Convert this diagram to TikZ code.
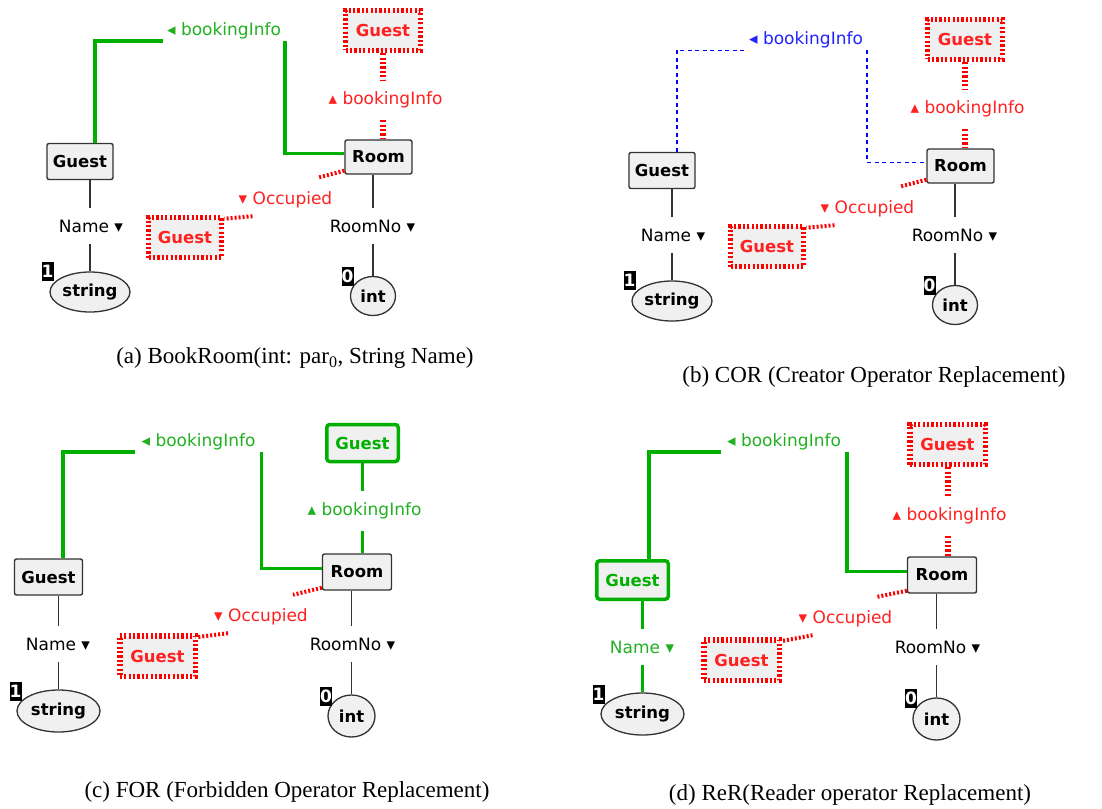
\documentclass[tikz,border=0pt]{standalone}
\usepackage{fontspec}
\setmainfont{Liberation Serif}
\newfontfamily\dvs{DejaVu Sans}
\usetikzlibrary{shapes.geometric}

\definecolor{boxfill}{HTML}{F0F0F0}
\definecolor{okgreen}{HTML}{00B000}
\definecolor{lblgreen}{HTML}{22B022}
\definecolor{nacred}{HTML}{FF0000}
\definecolor{lblred}{HTML}{FF2020}
\definecolor{crblue}{HTML}{0000FF}
\definecolor{lblblue}{HTML}{2222FF}
\definecolor{edgegray}{HTML}{333333}

\tikzset{
  reg/.style={font=\dvs\fontsize{17bp}{20bp}\selectfont},
  cls/.style={draw=edgegray, line width=1.4bp, fill=boxfill, rounded corners=2bp,
    minimum width=66bp, minimum height=36bp, inner sep=0,
    font=\dvs\bfseries\fontsize{16.5bp}{19bp}\selectfont},
  nacbox/.style={cls, draw=nacred, line width=5.5bp, dash pattern=on 2.2bp off 2.2bp,
    rounded corners=0, text=lblred, minimum width=75bp, minimum height=40bp},
  reqbox/.style={cls, draw=okgreen, line width=3.5bp, text=okgreen,
    minimum width=71.5bp, minimum height=37bp, rounded corners=3bp},
  typ/.style={ellipse, draw=edgegray, line width=1.3bp, fill=boxfill, inner sep=0,
    font=\dvs\bfseries\fontsize{16.5bp}{19bp}\selectfont},
  badge/.style={fill=black, text=white, inner sep=0, minimum width=12bp, minimum height=19bp,
    font=\dvs\bfseries\fontsize{17bp}{17bp}\selectfont},
  elbl/.style={reg, inner ysep=0, inner xsep=4bp, minimum height=20bp},
  vlbl/.style={reg, inner sep=0, minimum height=40bp},
  albl/.style={reg, inner sep=0, minimum height=36bp},
  attr/.style={draw=edgegray, line width=1.4bp},
  reqline/.style={draw=okgreen, line width=3.5bp},
  nacline/.style={draw=nacred, line width=6bp, dash pattern=on 2.2bp off 2.2bp},
  nacdiag/.style={draw=nacred, line width=4bp, dash pattern=on 2bp off 2bp},
  crline/.style={draw=crblue, line width=1.3bp, dash pattern=on 4bp off 3.5bp},
  captxt/.style={font=\fontsize{23bp}{26bp}\selectfont, inner sep=0},
}

\begin{document}
\begin{tikzpicture}[x=1bp,y=-1bp]
\useasboundingbox (0,0) rectangle (1102,809);

% ---------- (a) original graph ----------
\node[cls] (gA) at (80,161.5) {Guest};
\node[cls, minimum width=67bp, minimum height=34bp] (rA) at (378.5,157) {Room};
\node[nacbox] (tA) at (383,30.5) {Guest};
\node[nacbox, minimum width=73bp] (oA) at (185,237.5) {Guest};
\node[typ, minimum width=80bp, minimum height=40bp] (sA) at (90,292) {string};
\node[typ, minimum width=45bp, minimum height=39bp] (iA) at (373,296) {int};
\node[badge] (kA1) at (47.5,271) {1};
\node[badge] (kA0) at (347.5,276.5) {0};
\node[elbl, text=lblgreen] (bA) at (224,31) {◂ bookingInfo};
\node[vlbl, text=lblred] (vA) at (385.5,100) {▴ bookingInfo};
\node[albl, text=lblred] (cA) at (285.5,200) {▾ Occupied};
\node[albl] (nA) at (91,226) {Name ▾};
\node[albl] (mA) at (372.5,226) {RoomNo ▾};

\draw[reqline] ([xshift=15bp]gA.north) |- (bA.south west);
\draw[reqline] (bA.south east) |- ([yshift=3.5bp]rA.west);
\draw[nacline] (tA.south) -- (vA.north -| tA.south);
\draw[nacline] (vA.south -| tA.south) -- (rA.north -| tA.south);
\draw[nacdiag] ([yshift=4bp]rA.south west) -- ([xshift=-15bp,yshift=4bp]cA.north east);
\draw[nacdiag] ([xshift=14bp,yshift=2bp]cA.south west) -- ([yshift=-4bp]oA.north east);
\draw[attr] (gA.south -| sA.north) -- (nA.north -| sA.north);
\draw[attr] (nA.south -| sA.north) -- (sA.north);
\draw[attr] (rA.south -| iA.north) -- (mA.north -| iA.north);
\draw[attr] (mA.south -| iA.north) -- (iA.north);

\node[captxt] (capA) at (295,358) {(a) BookRoom(int: par\textsubscript{0}, String Name)};

% ---------- (b) creator operator replaced ----------
\begin{scope}[shift={(582,9)}]
\node[cls] (gB) at (80,161.5) {Guest};
\node[cls, minimum width=67bp, minimum height=34bp] (rB) at (378.5,157) {Room};
\node[nacbox] (tB) at (383,30.5) {Guest};
\node[nacbox, minimum width=73bp] (oB) at (185,237.5) {Guest};
\node[typ, minimum width=80bp, minimum height=40bp] (sB) at (90,292) {string};
\node[typ, minimum width=45bp, minimum height=39bp] (iB) at (373,296) {int};
\node[badge] (kB1) at (47.5,271) {1};
\node[badge] (kB0) at (347.5,276.5) {0};
\node[elbl, text=lblblue] (bB) at (224,31) {◂ bookingInfo};
\node[vlbl, text=lblred] (vB) at (385.5,100) {▴ bookingInfo};
\node[albl, text=lblred] (cB) at (285.5,200) {▾ Occupied};
\node[albl] (nB) at (91,226) {Name ▾};
\node[albl] (mB) at (372.5,226) {RoomNo ▾};

\draw[crline] ([xshift=15bp]gB.north) |- (bB.south west);
\draw[crline] (bB.south east) |- ([yshift=3.5bp]rB.west);
\draw[nacline] (tB.south) -- (vB.north -| tB.south);
\draw[nacline] (vB.south -| tB.south) -- (rB.north -| tB.south);
\draw[nacdiag] ([yshift=4bp]rB.south west) -- ([xshift=-15bp,yshift=4bp]cB.north east);
\draw[nacdiag] ([xshift=14bp,yshift=2bp]cB.south west) -- ([yshift=-4bp]oB.north east);
\draw[attr] (gB.south -| sB.north) -- (nB.north -| sB.north);
\draw[attr] (nB.south -| sB.north) -- (sB.north);
\draw[attr] (rB.south -| iB.north) -- (mB.north -| iB.north);
\draw[attr] (mB.south -| iB.north) -- (iB.north);
\end{scope}

\node[captxt] (capB) at (874,377) {(b) COR (Creator Operator Replacement)};

% ---------- (c) forbidden operator replaced ----------
\node[cls, minimum width=68bp] (gC) at (48.5,577) {Guest};
\node[cls, minimum width=69bp] (rC) at (357,572) {Room};
\node[reqbox] (tC) at (362.5,443) {Guest};
\node[nacbox, minimum width=75.5bp, minimum height=40.5bp] (oC) at (157.5,656) {Guest};
\node[typ, minimum width=83bp, minimum height=42bp] (sC) at (58.5,711) {string};
\node[typ, minimum width=47bp, minimum height=42bp] (iC) at (351.5,716) {int};
\node[badge] (kC1) at (15.5,691) {1};
\node[badge] (kC0) at (326,696) {0};
\node[elbl, text=lblgreen, inner xsep=6bp] (bC) at (198.5,442) {◂ bookingInfo};
\node[vlbl, text=lblgreen] (vC) at (364.5,511) {▴ bookingInfo};
\node[albl, text=lblred] (cC) at (261,617) {▾ Occupied};
\node[albl] (nC) at (58,644) {Name ▾};
\node[albl] (mC) at (352.5,644) {RoomNo ▾};

\draw[reqline] ([xshift=14.5bp]gC.north) |- (bC.south west);
\draw[reqline] (bC.south east) |- ([yshift=3.5bp]rC.west);
\draw[reqline] (tC.south) -- (vC.north -| tC.south);
\draw[reqline] (vC.south -| tC.south) -- (rC.north -| tC.south);
\draw[nacdiag] ([yshift=3bp]rC.south west) -- ([xshift=-15bp,yshift=4bp]cC.north east);
\draw[nacdiag] ([xshift=14bp,yshift=2bp]cC.south west) -- ([yshift=-4bp]oC.north east);
\draw[attr] (gC.south -| sC.north) -- (nC.north -| sC.north);
\draw[attr] (nC.south -| sC.north) -- (sC.north);
\draw[attr] (rC.south -| iC.north) -- (mC.north -| iC.north);
\draw[attr] (mC.south -| iC.north) -- (iC.north);

\node[captxt] (capC) at (287,792) {(c) FOR (Forbidden Operator Replacement)};

% ---------- (d) reader operator replaced ----------
\node[reqbox, minimum height=38.5bp] (gD) at (632.5,580) {Guest};
\node[cls, minimum width=69bp] (rD) at (942,575) {Room};
\node[nacbox, minimum width=75.5bp] (tD) at (947.5,444.5) {Guest};
\node[nacbox, minimum width=75.5bp, minimum height=40.5bp] (oD) at (741.5,660) {Guest};
\node[typ, minimum width=83bp, minimum height=42bp] (sD) at (642.5,714) {string};
\node[typ, minimum width=47bp, minimum height=42bp] (iD) at (936.5,719) {int};
\node[badge] (kD1) at (598.5,694) {1};
\node[badge] (kD0) at (911,698.5) {0};
\node[elbl, text=lblgreen, inner xsep=6bp] (bD) at (784,442) {◂ bookingInfo};
\node[vlbl, text=lblred] (vD) at (949.5,516) {▴ bookingInfo};
\node[albl, text=lblred] (cD) at (845.5,619) {▾ Occupied};
\node[albl, text=lblgreen] (nD) at (642,647) {Name ▾};
\node[albl] (mD) at (937.5,647) {RoomNo ▾};

\draw[reqline] ([xshift=16.5bp]gD.north) |- (bD.south west);
\draw[reqline] (bD.south east) |- ([yshift=3.5bp]rD.west);
\draw[nacline] (tD.south) -- (vD.north -| tD.south);
\draw[nacline] (vD.south -| tD.south) -- (rD.north -| tD.south);
\draw[nacdiag] ([yshift=3bp]rD.south west) -- ([xshift=-15bp,yshift=4bp]cD.north east);
\draw[nacdiag] ([xshift=14bp,yshift=2bp]cD.south west) -- ([yshift=-4bp]oD.north east);
\draw[reqline] (gD.south -| sD.north) -- (nD.north -| sD.north);
\draw[reqline] (nD.south -| sD.north) -- (sD.north);
\draw[attr] (rD.south -| iD.north) -- (mD.north -| iD.north);
\draw[attr] (mD.south -| iD.north) -- (iD.north);

\node[captxt] (capD) at (850,795) {(d) ReR(Reader operator Replacement)};
\end{tikzpicture}
\end{document}
